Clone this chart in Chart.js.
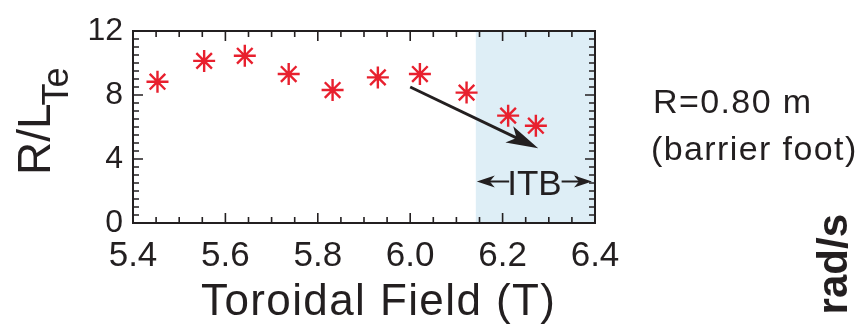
<!DOCTYPE html>
<html>
<head>
<meta charset="utf-8">
<script src="https://cdn.jsdelivr.net/npm/chart.js@4/dist/chart.umd.min.js"></script>
<style>
  html, body { margin: 0; padding: 0; background: #fff; }
  #wrap { width: 858px; height: 325px; }
</style>
</head>
<body>
<div id="wrap"><canvas id="rlte" width="858" height="325"></canvas></div>
<script>
// toroidal field scan, gradient at the barrier foot
const fieldT = [5.453, 5.554, 5.642, 5.737, 5.832, 5.930, 6.021, 6.122, 6.212, 6.272];
const rLTe = [8.83, 10.13, 10.45, 9.31, 8.31, 9.10, 9.31, 8.15, 6.71, 6.08];

const xRange = [5.4, 6.4];
const yRange = [0, 12];
const xLabelStep = 0.2;
const yLabelStep = 4;
const xMinorStep = 0.05;
const yMinorStep = 0.5;

// ITB band and trend arrow, in data units
const itbBand = [6.142, 6.4];
const itbArrowY = 2.6;
const trendFrom = [6.0, 8.5];
const trendTo = [6.277, 4.67];

const INK = "#231f20";
const RED = "#e8202e";
const FONT = '"Liberation Sans", Arial, Helvetica, sans-serif';

function arrowHead(ctx, tx, ty, angle, len, half, notch) {
  ctx.save();
  ctx.translate(tx, ty);
  ctx.rotate(angle);
  ctx.beginPath();
  ctx.moveTo(0, 0);
  ctx.lineTo(-len, -half);
  ctx.lineTo(-len + notch, 0);
  ctx.lineTo(-len, half);
  ctx.closePath();
  ctx.fill();
  ctx.restore();
}

function spaced(ctx, px) {
  if ("letterSpacing" in ctx) ctx.letterSpacing = px + "px";
}

const decorations = {
  id: "decorations",
  beforeDatasetsDraw(chart) {
    const { ctx, chartArea: a, scales: { x, y } } = chart;
    ctx.save();
    // shaded ITB region
    ctx.fillStyle = "rgb(222,238,246)";
    const bx0 = x.getPixelForValue(itbBand[0]);
    const bx1 = x.getPixelForValue(itbBand[1]);
    ctx.fillRect(bx0, a.top, bx1 - bx0, a.bottom - a.top);

    // frame
    ctx.strokeStyle = INK;
    ctx.lineWidth = 2;
    ctx.strokeRect(a.left, a.top, a.right - a.left, a.bottom - a.top);

    // inward ticks on all four sides
    ctx.lineWidth = 1.6;
    ctx.beginPath();
    const nx = Math.round((xRange[1] - xRange[0]) / xMinorStep);
    for (let i = 1; i < nx; i++) {
      const v = xRange[0] + i * xMinorStep;
      const px = x.getPixelForValue(v);
      const major = Math.abs(v / xLabelStep - Math.round(v / xLabelStep)) < 1e-6;
      const len = major ? 10 : 6;
      ctx.moveTo(px, a.bottom);
      ctx.lineTo(px, a.bottom - len);
      ctx.moveTo(px, a.top);
      ctx.lineTo(px, a.top + len);
    }
    const ny = Math.round((yRange[1] - yRange[0]) / yMinorStep);
    for (let i = 1; i < ny; i++) {
      const v = yRange[0] + i * yMinorStep;
      const py = y.getPixelForValue(v);
      const major = Math.abs(v / yLabelStep - Math.round(v / yLabelStep)) < 1e-6;
      const len = major ? 10 : 6;
      ctx.moveTo(a.left, py);
      ctx.lineTo(a.left + len, py);
      ctx.moveTo(a.right, py);
      ctx.lineTo(a.right - len, py);
    }
    ctx.stroke();
    ctx.restore();
  },
  afterDatasetsDraw(chart) {
    const { ctx, scales: { x, y } } = chart;
    ctx.save();
    ctx.fillStyle = INK;
    ctx.strokeStyle = INK;

    // trend arrow
    const x0 = x.getPixelForValue(trendFrom[0]), y0 = y.getPixelForValue(trendFrom[1]);
    const x1 = x.getPixelForValue(trendTo[0]), y1 = y.getPixelForValue(trendTo[1]);
    const ang = Math.atan2(y1 - y0, x1 - x0);
    ctx.lineWidth = 3;
    ctx.beginPath();
    ctx.moveTo(x0, y0);
    ctx.lineTo(x1 - 20 * Math.cos(ang), y1 - 20 * Math.sin(ang));
    ctx.stroke();
    arrowHead(ctx, x1, y1, ang, 32, 9, 8);

    // ITB width marker
    const iy = y.getPixelForValue(itbArrowY);
    const il = x.getPixelForValue(itbBand[0]) + 1;
    const ir = x.getPixelForValue(itbBand[1]) - 3;
    const mid = (il + ir) / 2;
    ctx.font = "35px " + FONT;
    ctx.textAlign = "center";
    ctx.textBaseline = "alphabetic";
    ctx.fillText("ITB", mid, iy + 14);
    const half = ctx.measureText("ITB").width / 2;
    ctx.lineWidth = 2;
    ctx.beginPath();
    ctx.moveTo(il + 8, iy);
    ctx.lineTo(mid - half + 2, iy);
    ctx.moveTo(mid + half, iy);
    ctx.lineTo(ir - 8, iy);
    ctx.stroke();
    arrowHead(ctx, il, iy, Math.PI, 18, 6, 5);
    arrowHead(ctx, ir, iy, 0, 18, 6, 5);

    // axis titles
    ctx.textAlign = "left";
    ctx.font = "44px " + FONT;
    spaced(ctx, 1.4);
    ctx.fillText("Toroidal Field (T)", 201, 315);
    spaced(ctx, 0);

    ctx.save();
    ctx.translate(50, 175);
    ctx.rotate(-Math.PI / 2);
    ctx.font = "46px " + FONT;
    ctx.fillText("R/L", 0, 0);
    const w = ctx.measureText("R/L").width;
    ctx.font = "36px " + FONT;
    ctx.fillText("Te", w - 2, 18);
    ctx.restore();

    // location note
    ctx.font = "34px " + FONT;
    spaced(ctx, 1.4);
    ctx.fillText("R=0.80 m", 653, 113);
    ctx.fillText("(barrier foot)", 651, 160);
    spaced(ctx, 0);

    // neighbouring panel's axis unit
    ctx.save();
    ctx.translate(847, 214);
    ctx.rotate(-Math.PI / 2);
    ctx.font = "bold 42px " + FONT;
    ctx.textAlign = "right";
    ctx.fillText("rad/s", 0, 0);
    ctx.restore();

    ctx.restore();
  }
};

new Chart(document.getElementById("rlte"), {
  type: "scatter",
  data: {
    datasets: [{
      data: fieldT.map((b, i) => ({ x: b, y: rLTe[i] })),
      pointStyle: "star",
      pointRadius: 11,
      borderWidth: 2.4,
      borderColor: RED,
      backgroundColor: RED
    }]
  },
  options: {
    responsive: false,
    animation: false,
    events: [],
    layout: { padding: { left: 0, top: 31, right: 263, bottom: 0 } },
    plugins: { legend: { display: false }, tooltip: { enabled: false } },
    scales: {
      x: {
        type: "linear",
        min: xRange[0],
        max: xRange[1],
        afterFit: (s) => { s.height = 102; },
        grid: { display: false, drawTicks: false },
        border: { display: false },
        ticks: {
          stepSize: xLabelStep,
          padding: 12,
          color: INK,
          font: { family: FONT, size: 35 },
          callback: (v) => v.toFixed(1)
        }
      },
      y: {
        type: "linear",
        min: yRange[0],
        max: yRange[1],
        afterFit: (s) => { s.width = 133; },
        grid: { display: false, drawTicks: false },
        border: { display: false },
        ticks: {
          stepSize: yLabelStep,
          padding: 10,
          color: INK,
          font: { family: FONT, size: 32 }
        }
      }
    }
  },
  plugins: [decorations]
});
</script>
</body>
</html>
